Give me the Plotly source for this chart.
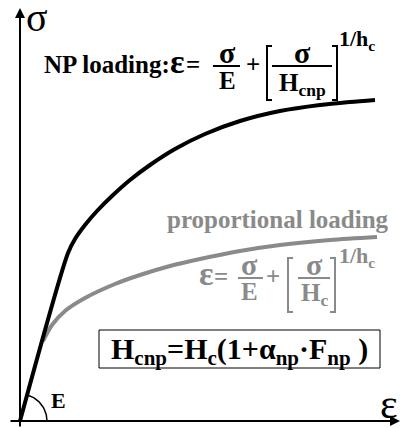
import numpy as np
import plotly.graph_objects as go

# ----------------------------------------
# Curve data (strain, stress), arbitrary units
# ----------------------------------------
eps_np = [0, 48, 55, 65, 77, 92, 110, 130, 155, 185, 220, 260, 300, 330, 355]
sig_np = [0, 168, 182, 196, 210, 225, 241, 256, 272, 287, 300, 310, 316, 319, 321]

eps_prop = [23, 32, 45, 65, 95, 120, 150, 180, 220, 260, 310, 357]
sig_prop = [80, 96, 110, 123, 137, 146, 155, 162, 170, 176, 181, 184]

W, H = 402, 428
FONT = "Liberation Serif, Times New Roman, serif"
GREY = "#8a8a8a"


def X(px):
    return px / W


def Y(py):
    return 1 - py / H


fig = go.Figure()

# elastic slope arc "E"
theta = np.linspace(0, np.arctan2(sig_np[1], eps_np[1]), 30)
r = 27
fig.add_trace(go.Scatter(x=r * np.cos(theta), y=r * np.sin(theta), mode='lines',
                         line=dict(color='black', width=1.5), hoverinfo='skip'))

fig.add_trace(go.Scatter(x=eps_prop, y=sig_prop, mode='lines', line_shape='spline',
                         line=dict(color=GREY, width=4, smoothing=0.8), name='proportional loading'))
fig.add_trace(go.Scatter(x=eps_np, y=sig_np, mode='lines', line_shape='spline',
                         line=dict(color='black', width=4, smoothing=0.8), name='NP loading'))

annotations = []
shapes = []

# axes with arrows
annotations.append(dict(x=380, y=0, ax=-11, ay=0, xref='x', yref='y', axref='x', ayref='y',
                        text='', showarrow=True, arrowhead=2, arrowsize=1, arrowwidth=2,
                        arrowcolor='black', standoff=0))
annotations.append(dict(x=0, y=413, ax=0, ay=-7, xref='x', yref='y', axref='x', ayref='y',
                        text='', showarrow=True, arrowhead=2, arrowsize=1, arrowwidth=2,
                        arrowcolor='black', standoff=0))


def txt(s, px, py, size, color='black', bold=True, anchor='center'):
    if bold:
        s = '<b>' + s + '</b>'
    annotations.append(dict(x=X(px), y=Y(py), xref='paper', yref='paper', text=s,
                            showarrow=False, xanchor=anchor, yanchor='middle',
                            font=dict(family=FONT, size=size, color=color)))


def bar(x0, x1, py, color):
    shapes.append(dict(type='line', xref='paper', yref='paper', x0=X(x0), x1=X(x1),
                       y0=Y(py), y1=Y(py), line=dict(color=color, width=2)))


def bracket(x, y0, y1, color, side):
    d = 5 if side == 'left' else -5
    path = (f"M {X(x + d)},{Y(y0)} L {X(x)},{Y(y0)} L {X(x)},{Y(y1)} L {X(x + d)},{Y(y1)}")
    shapes.append(dict(type='path', xref='paper', yref='paper', path=path,
                       line=dict(color=color, width=2)))


# axis labels
txt('σ', 37, 18, 40, bold=False)
txt('ε', 389, 404, 42, bold=False)
txt('E', 58, 400, 22)

# NP loading formula
txt('NP loading:', 42, 65, 25, anchor='left')
txt('ε', 177, 61, 34)
txt('=', 193, 64, 25)
txt('σ', 227, 52, 30)
bar(213, 240, 66, 'black')
txt('E', 227, 80, 25)
txt('+', 253, 64, 25)
bracket(267, 46, 100, 'black', 'left')
txt('σ', 302, 52, 30)
bar(272, 332, 66, 'black')
txt('H<sub>cnp</sub>', 302, 84, 25)
bracket(337, 46, 100, 'black', 'right')
txt('1/h<sub>c</sub>', 357, 40, 22)

# proportional loading formula
txt('proportional loading', 165, 220, 25, color=GREY, anchor='left')
txt('ε', 206, 273, 34, color=GREY)
txt('=', 221, 276, 25, color=GREY)
txt('σ', 250, 264, 30, color=GREY)
bar(238, 263, 278, GREY)
txt('E', 250, 291, 25, color=GREY)
txt('+', 273, 276, 25, color=GREY)
bracket(288, 258, 312, GREY, 'left')
txt('σ', 314, 264, 30, color=GREY)
bar(298, 330, 278, GREY)
txt('H<sub>c</sub>', 314, 294, 25, color=GREY)
bracket(335, 258, 312, GREY, 'right')
txt('1/h<sub>c</sub>', 357, 257, 22, color=GREY)

# boxed relation
shapes.append(dict(type='rect', xref='paper', yref='paper', x0=X(99), x1=X(380),
                   y0=Y(368), y1=Y(330), line=dict(color='black', width=1)))
txt('H<sub>cnp</sub>=H<sub>c</sub>(1+α<sub>np</sub>·F<sub>np</sub> )', 239, 351, 30)

fig.update_layout(
    width=W, height=H,
    margin=dict(l=0, r=0, t=0, b=0),
    paper_bgcolor='white', plot_bgcolor='white',
    showlegend=False,
    xaxis=dict(range=[-20, 382], visible=False, fixedrange=True),
    yaxis=dict(range=[-7, 421], visible=False, fixedrange=True),
    annotations=annotations,
    shapes=shapes,
)

# the page body has a default 8px margin; drop it so the figure fills the window
fig.write_html("out.html", config={'displayModeBar': False},
               post_script="document.body.style.margin='0px';")
